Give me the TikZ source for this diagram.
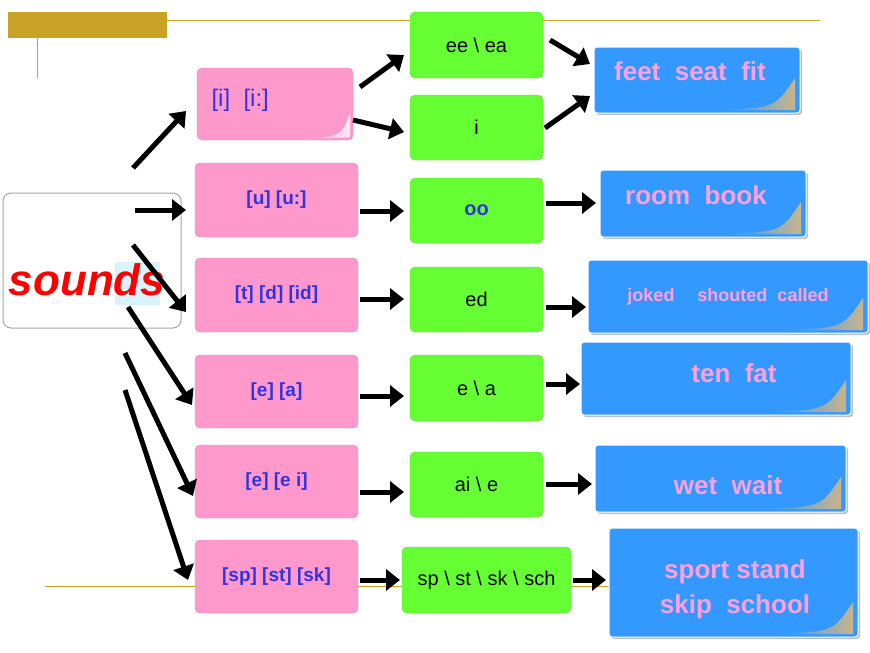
\documentclass[tikz,border=0pt]{standalone}
\usepackage{fontspec}
\setmainfont{Liberation Sans}
\usetikzlibrary{arrows.meta,shadows}
\definecolor{gold}{HTML}{C9A227}
\definecolor{pinkb}{HTML}{FF99CC}
\definecolor{greenb}{HTML}{66FF33}
\definecolor{blueb}{HTML}{3399FF}
\definecolor{ptxt}{HTML}{FFA0E0}
\definecolor{btxt}{HTML}{3333DD}
\definecolor{tan}{HTML}{C8B48C}
\tikzset{
 pbox/.style={fill=pinkb,rounded corners=5pt,draw=pinkb!90!black,line width=0.4pt,text=btxt,font=\bfseries\fontsize{19}{22}\selectfont,inner sep=0pt},
 gbox/.style={fill=greenb,rounded corners=5pt,draw=greenb!90!black,line width=0.4pt,font=\fontsize{20}{24}\selectfont,inner sep=0pt},
 bbox/.style={fill=blueb,rounded corners=3pt,draw=white,line width=1pt,inner sep=0pt,drop shadow={opacity=0.5,shadow xshift=2pt,shadow yshift=-2pt}},
 btext/.style={text=ptxt,font=\bfseries\fontsize{26}{31}\selectfont,align=center},
 arr/.style={line width=5pt,-{Triangle[length=14pt,width=21pt]}}
}
\begin{document}
\begin{tikzpicture}[x=1pt,y=-1pt]
\useasboundingbox (0,0) rectangle (870,653);
\fill[white] (0,0) rectangle (870,653);
% decor
\fill[gold] (8,12) rectangle (167,38);
\draw[gold,line width=1pt] (167,20) -- (820,20);
\draw[gold,line width=1pt] (37,38) -- (37,78);
\draw[gold,line width=1pt] (45,586) -- (820,586);
% sounds
\node[draw=gray!70,line width=1pt,rounded corners=8pt,fill=white,minimum width=178pt,minimum height=135pt] (s) at (92,260.5) {};
\fill[cyan!15] (115,262) rectangle (160,305);
\node[text=red,font=\bfseries\itshape\fontsize{44}{50}\selectfont] (st) at (87,280) {sounds};
% pink
\node[pbox,minimum width=156pt,minimum height=72pt] (p1) at (275,104) {};
\node[text=btxt,font=\fontsize{24}{28}\selectfont,anchor=west] (p1t) at (208,100) {[i]\ \ [i:]};
\node[pbox,minimum width=163pt,minimum height=74pt] (p2) at (276.5,200) {[u] [u:]};
\node[pbox,minimum width=163pt,minimum height=74pt] (p3) at (276.5,295) {[t] [d] [id]};
\node[pbox,minimum width=163pt,minimum height=73pt] (p4) at (276.5,391.5) {[e] [a]};
\node[pbox,minimum width=163pt,minimum height=73pt] (p5) at (276.5,481.5) {[e] [e i]};
\node[pbox,minimum width=163pt,minimum height=73pt] (p6) at (276.5,576.5) {[sp] [st] [sk]};
\shade[left color=pinkb,right color=white!80!pinkb] ([xshift=-50pt,yshift=1pt]p1.south east) .. controls ([xshift=-12pt,yshift=4pt]p1.south east) .. ([xshift=-3pt,yshift=28pt]p1.south east) -- ([xshift=-3pt,yshift=3pt]p1.south east) -- cycle;
% green
\node[gbox,minimum width=133pt,minimum height=66pt] (g1) at (476.5,45) {ee \textbackslash\ ea};
\node[gbox,minimum width=133pt,minimum height=65pt] (g2) at (476.5,127.5) {i};
\node[gbox,minimum width=133pt,minimum height=65pt,text=btxt,font=\bfseries\fontsize{20}{24}\selectfont] (g3) at (476.5,210.5) {oo};
\node[gbox,minimum width=133pt,minimum height=65pt] (g4) at (476.5,299.5) {ed};
\node[gbox,minimum width=133pt,minimum height=66pt] (g5) at (476.5,388) {e \textbackslash\ a};
\node[gbox,minimum width=133pt,minimum height=65pt] (g6) at (476.5,484.5) {ai \textbackslash\ e};
\node[gbox,minimum width=169pt,minimum height=66pt] (g7) at (486.5,580) {sp \textbackslash\ st \textbackslash\ sk \textbackslash\ sch};
% blue
\path[bbox] (594,47) rectangle (800,113);
\node[btext] (b1) at (690,71) {feet\ \ seat\ \ fit};
\path[bbox] (600,170) rectangle (806,237);
\node[btext] (b2) at (696,195) {room\ \ book};
\path[bbox] (588,260) rectangle (868,333);
\node[btext,font=\bfseries\fontsize{18}{22}\selectfont] (b3) at (728,297) {joked\quad\ shouted\ \ called};
\path[bbox] (581,342) rectangle (851,415);
\node[btext] (b4) at (734,373) {ten\ \ fat};
\path[bbox] (595,445) rectangle (846,512);
\node[btext] (b5) at (728,485) {wet\ \ wait};
\path[bbox] (609,528) rectangle (858,637);
\node[btext,font=\bfseries\fontsize{26}{35}\selectfont] (b6) at (735,589) {sport stand\\skip\ \ school};
\foreach \x/\y in {800/113,806/237,868/333,851/415,846/512,858/637}{
 \shade[left color=blueb,right color=tan] (\x-85,\y-3) .. controls (\x-25,\y-5) .. (\x-5,\y-35) -- (\x-5,\y-3) -- cycle;}
% arrows from sounds
\draw[arr] (133,168) -- (186,111);
\draw[arr] (135,210) -- (186,210);
\draw[arr] (133,245) -- (186,312);
\draw[arr] (128,307) -- (192,405);
\draw[arr] (125,353) -- (193,496);
\draw[arr] (125,390) -- (188,580);
% pink -> green
\draw[arr] (360,87) -- (404,55);
\draw[arr] (353,120) -- (404,132);
\draw[arr] (360,211) -- (404,211);
\draw[arr] (360,299) -- (404,299);
\draw[arr] (360,396) -- (404,396);
\draw[arr] (360,492) -- (404,492);
\draw[arr] (360,580) -- (400,580);
% green -> blue
\draw[arr] (550,40) -- (590,64);
\draw[arr] (545,128) -- (590,96);
\draw[arr] (546,203) -- (596,203);
\draw[arr] (546,307) -- (586,307);
\draw[arr] (546,384) -- (580,384);
\draw[arr] (546,484) -- (592,484);
\draw[arr] (573,580) -- (606,580);
\end{tikzpicture}
\end{document}
